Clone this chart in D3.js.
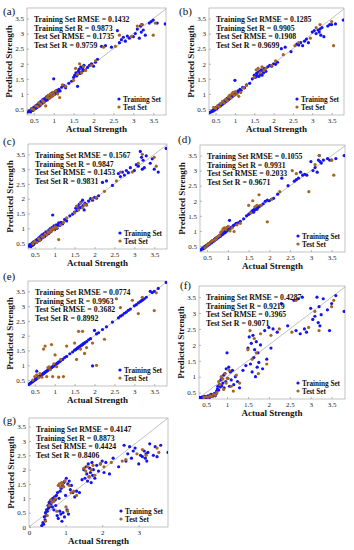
<!DOCTYPE html>
<html>
<head>
<meta charset="utf-8">
<script src="https://cdn.jsdelivr.net/npm/d3@7"></script>
<style>
  body { margin: 0; background: #fff; }
  svg { display: block; font-family: "Liberation Serif", "Times New Roman", serif; }
</style>
</head>
<body>
<svg id="chart" width="354" height="550"></svg>
<script>
// actual strength, shared by all seven models
const trainActual = [
  0.35,0.38,0.40,0.42,0.44,0.45,0.47,0.48,0.50,0.52,
  0.53,0.55,0.56,0.58,0.60,0.61,0.62,0.64,0.65,0.67,
  0.68,0.70,0.72,0.73,0.75,0.77,0.78,0.80,0.82,0.84,
  0.85,0.87,0.88,0.90,0.92,0.93,0.95,0.97,0.98,1.00,
  1.02,1.04,1.06,1.08,1.10,1.13,1.16,1.20,1.25,1.30,
  1.38,1.45,1.50,1.53,1.56,1.58,1.60,1.62,1.64,1.66,
  1.68,1.70,1.72,1.74,1.76,1.80,1.85,1.90,1.95,2.00,
  2.05,2.10,2.20,2.30,2.45,2.60,2.65,2.70,2.75,2.80,
  2.85,2.90,3.00,3.05,3.10,3.15,3.18,3.20,3.22,3.25,
  3.30,3.40,3.45,3.50,3.60,3.80];
const testActual = [
  0.45,0.50,0.55,0.60,0.63,0.68,0.72,0.76,0.80,0.83,
  0.86,0.89,0.92,0.95,0.98,1.01,1.05,1.10,1.15,1.22,
  1.30,1.50,1.55,1.60,1.65,1.70,1.75,1.80,1.95,2.05,
  2.25,2.55,2.65,2.95,3.10,3.20,3.50,3.55];

// predicted strength per model
const trainPredA = [
  0.40,0.42,0.45,0.40,0.50,0.47,0.52,0.45,0.55,0.50,
  0.58,0.52,0.62,0.55,0.65,0.58,0.68,0.60,0.72,0.63,
  0.75,0.68,0.80,0.70,0.82,0.74,0.85,0.78,0.90,0.80,
  0.92,0.85,0.95,0.88,0.98,0.90,1.02,0.93,1.05,1.50,
  0.98,1.08,1.02,1.12,1.05,1.15,1.10,1.22,1.28,1.20,
  1.35,1.42,1.55,1.62,1.70,1.60,1.25,1.75,1.82,1.68,
  1.90,1.72,1.85,1.78,1.95,1.80,1.88,1.95,2.00,1.92,
  2.05,2.15,2.58,2.60,2.55,3.10,2.70,2.80,2.88,2.75,
  2.92,2.85,2.90,3.00,3.15,2.85,3.25,3.05,3.30,3.12,
  2.95,3.35,3.40,3.45,3.35,3.32];
const testPredA = [
  0.50,0.48,0.60,0.58,0.70,0.65,0.78,0.72,0.60,0.88,
  0.95,0.85,1.00,0.92,1.05,0.97,1.10,1.00,0.88,1.30,
  1.25,1.45,1.85,1.65,2.00,1.70,1.90,1.78,1.95,2.10,
  2.55,2.58,2.95,2.90,3.25,3.30,2.95,3.35];

const trainPredB = [
  0.38,0.40,0.42,0.45,0.43,0.48,0.50,0.47,0.53,0.55,
  0.50,0.58,0.55,0.62,0.60,0.65,0.60,0.68,0.63,0.70,
  0.66,0.74,0.70,0.78,0.73,0.80,0.76,0.85,0.80,0.88,
  0.83,0.92,0.86,0.95,0.90,0.98,0.93,1.00,0.96,1.45,
  1.00,1.05,1.03,1.10,1.08,1.15,1.12,1.22,1.20,1.30,
  1.35,1.50,1.62,1.55,1.68,1.60,1.72,1.58,1.75,1.65,
  1.80,1.62,1.78,1.70,1.85,1.75,1.90,1.95,1.92,2.00,
  1.98,2.05,2.50,2.55,2.40,2.65,2.62,2.70,2.60,2.75,
  2.82,2.70,3.05,3.10,3.00,3.12,3.05,3.15,2.95,3.20,
  2.90,3.25,3.30,3.30,3.32,3.45];
const testPredB = [
  0.55,0.52,0.60,0.57,0.68,0.75,0.70,0.82,0.78,0.90,
  0.95,0.87,1.00,1.05,0.95,1.08,1.00,0.92,1.05,1.20,
  1.28,1.55,1.80,1.85,1.70,1.90,1.78,1.85,1.95,2.10,
  2.30,2.60,2.70,2.85,3.20,3.30,3.40,2.60];

const trainPredC = [
  0.40,0.45,0.38,0.48,0.42,0.52,0.45,0.55,0.50,0.58,
  0.52,0.62,0.55,0.60,0.68,0.58,0.65,0.72,0.62,0.70,
  0.78,0.68,0.75,0.82,0.72,0.80,0.88,0.78,0.85,0.92,
  0.82,0.90,0.98,0.88,0.95,1.02,1.45,0.98,1.08,0.95,
  1.05,1.12,1.00,1.10,1.18,1.10,1.20,1.15,1.30,1.25,
  1.42,1.48,1.55,1.68,1.60,1.75,1.65,1.82,1.70,1.88,
  1.72,1.95,1.78,1.62,1.85,1.80,1.92,2.00,1.95,2.05,
  2.02,2.10,2.55,2.60,2.45,2.85,2.75,2.90,2.80,2.95,
  2.88,3.05,2.95,3.15,3.10,3.60,3.40,3.00,3.30,3.05,
  3.45,3.20,3.35,3.00,2.90,3.70];
const testPredC = [
  0.48,0.55,0.52,0.65,0.60,0.72,0.70,0.80,0.78,0.88,
  0.85,0.95,0.90,1.00,0.96,1.05,1.02,0.62,1.12,1.20,
  1.35,1.52,1.75,1.62,1.85,1.70,1.80,1.78,2.00,2.05,
  2.25,2.60,2.90,2.90,3.20,3.50,3.40,3.10];

const trainPredD = [
  0.37,0.41,0.40,0.46,0.43,0.49,0.47,0.52,0.50,0.56,
  0.53,0.59,0.56,0.62,0.60,0.65,0.62,0.68,0.66,0.71,
  0.68,0.75,0.72,0.78,0.76,0.81,0.79,0.85,0.82,0.89,
  0.86,0.92,0.89,0.95,0.93,0.99,0.96,1.02,1.00,1.06,
  1.05,1.35,1.08,1.12,1.12,1.18,1.20,1.25,1.27,1.32,
  1.40,1.50,1.55,1.58,1.62,1.65,1.68,1.62,1.72,1.70,
  1.75,1.72,1.78,1.80,1.82,1.85,1.90,1.98,2.02,2.00,
  2.05,2.08,2.22,2.75,2.50,2.65,2.70,2.75,2.95,2.85,
  2.88,2.85,3.30,3.00,3.10,2.95,3.35,3.50,3.30,3.25,
  3.35,3.40,3.35,3.35,3.40,3.50];
const testPredD = [
  0.45,0.52,0.58,0.65,0.68,0.70,0.75,0.82,0.85,0.95,
  1.00,1.08,1.10,1.05,1.12,1.15,1.00,1.10,0.98,1.20,
  1.25,1.85,1.60,2.00,1.80,1.85,2.20,1.85,1.30,2.05,
  2.30,3.00,2.90,2.30,3.20,3.50,3.35,2.85];

const trainPredE = [
  0.35,0.39,0.40,0.43,0.44,0.46,0.47,0.49,0.50,0.53,
  0.53,0.80,0.57,0.58,0.61,0.61,0.63,0.64,0.66,0.67,
  0.69,0.70,0.73,0.73,0.76,0.77,0.79,0.80,0.83,0.84,
  0.86,0.87,0.89,0.90,0.93,0.93,0.96,0.97,0.99,1.00,
  1.03,1.04,1.07,1.08,1.11,1.13,1.17,1.20,1.26,1.30,
  1.39,1.45,1.51,1.53,1.57,1.58,1.61,1.62,1.65,1.66,
  1.69,1.70,1.73,1.74,1.77,1.80,1.86,1.90,0.98,2.18,
  2.06,2.10,2.21,2.30,2.46,2.60,2.66,2.70,2.76,2.80,
  2.86,2.90,3.01,3.05,3.11,3.15,3.19,3.20,3.23,3.25,
  3.30,3.50,3.46,3.50,3.60,3.80];
const testPredE = [
  0.50,0.62,0.68,0.58,0.72,0.60,1.55,1.65,0.62,0.92,
  0.95,0.85,1.70,0.62,1.05,1.35,0.95,0.60,1.20,0.62,
  1.65,1.75,1.20,2.15,1.55,2.15,1.40,1.60,1.75,1.00,
  1.88,3.25,2.95,3.20,2.75,3.30,2.85,3.45];

const trainPredF = [
  0.35,0.34,0.36,0.35,0.37,0.34,0.38,0.36,0.35,0.38,
  0.36,0.40,0.37,0.35,0.42,0.38,0.45,0.40,0.38,0.44,
  0.42,0.48,0.40,0.45,0.55,0.62,0.70,0.58,0.75,0.68,
  0.90,0.72,0.95,0.80,1.05,0.65,1.10,0.85,1.25,1.75,
  0.95,1.30,0.70,1.15,0.90,1.20,0.75,1.00,0.85,0.65,
  1.20,1.35,1.90,2.25,1.40,2.05,1.15,2.30,1.60,1.85,
  1.00,2.10,1.30,1.75,1.45,2.00,1.25,2.45,1.55,2.55,
  1.90,2.50,2.40,3.30,2.60,3.40,2.45,3.45,2.35,3.50,
  2.50,2.40,3.15,2.80,2.90,3.50,2.70,3.20,2.60,2.95,
  3.45,3.10,2.45,3.30,3.55,3.05];
const testPredF = [
  0.35,0.37,0.36,0.40,0.38,0.45,0.42,0.50,0.85,0.75,
  1.00,0.92,0.60,1.10,0.80,0.95,1.20,0.70,0.55,1.05,
  0.80,1.85,2.45,1.55,2.20,1.75,1.10,2.35,1.40,2.30,
  2.50,2.40,3.40,2.55,3.05,2.45,3.20,3.40];

const trainPredG = [
  0.05,0.15,0.10,0.35,0.25,0.50,0.40,0.60,0.55,0.75,
  0.65,0.85,0.70,0.90,0.80,0.95,0.85,0.70,1.00,0.90,
  0.60,1.05,0.95,0.75,1.10,0.40,1.20,0.30,1.00,0.55,
  1.25,0.45,1.35,0.20,1.45,0.50,1.55,0.35,1.60,1.10,
  1.70,0.60,1.50,0.45,1.60,1.30,1.45,1.20,1.05,1.25,
  1.20,1.65,2.00,1.70,2.10,1.85,1.60,2.20,1.75,2.05,
  1.90,1.55,2.25,1.80,2.00,1.70,2.15,1.95,2.20,2.30,
  1.90,2.25,1.85,2.40,2.10,2.85,2.30,2.55,2.80,2.40,
  2.65,2.75,2.20,2.50,2.45,2.65,2.40,2.55,2.30,2.60,
  2.90,2.50,2.80,2.45,2.85,2.60];
const testPredG = [
  0.20,0.40,0.75,0.95,0.85,0.90,1.00,0.55,1.45,1.50,
  1.40,1.55,1.50,1.40,1.60,0.70,0.55,1.45,1.20,1.25,
  1.10,2.05,1.95,2.10,1.75,2.00,2.15,1.80,2.20,2.10,
  2.25,2.30,2.35,2.55,2.70,2.50,2.75,2.60];

// Training RMSE, Training R, Test RMSE, Test R
const statsA = ['0.1432', '0.9873', '0.1735', '0.9759'];
const statsB = ['0.1285', '0.9905', '0.1908', '0.9699'];
const statsC = ['0.1567', '0.9847', '0.1453', '0.9831'];
const statsD = ['0.1055', '0.9931', '0.2033', '0.9671'];
const statsE = ['0.0774', '0.9963', '0.3682', '0.8992'];
const statsF = ['0.4287', '0.9219', '0.3965', '0.9071'];
const statsG = ['0.4147', '0.8873', '0.4424', '0.8406'];

const statNames = ['Training Set RMSE', 'Training Set R', 'Test Set RMSE', 'Test Set R'];
const ticksHalf = [0.5, 1, 1.5, 2, 2.5, 3, 3.5];
const ticksG = [0, 1, 2, 3];
const ticksGy = [0, 0.5, 1, 1.5, 2, 2.5, 3, 3.5];

const TRAIN_COLOR = '#1414f0';
const TEST_COLOR = '#a8641e';

// box = [left, top, right, bottom]; lab = position of the (a) letter
const panels = [
  { name: '(a)', train: trainPredA, test: testPredA, stats: statsA, box: [27, 8, 166, 115], lab: [3, 15],
    xd: [0.33, 3.82], yd: [0.3, 3.85], xt: ticksHalf, yt: ticksHalf },
  { name: '(b)', train: trainPredB, test: testPredB, stats: statsB, box: [209, 8, 344, 115], lab: [179, 15],
    xd: [0.33, 3.82], yd: [0.3, 3.85], xt: ticksHalf, yt: ticksHalf },
  { name: '(c)', train: trainPredC, test: testPredC, stats: statsC, box: [28, 144, 167, 249], lab: [3, 145],
    xd: [0.33, 3.82], yd: [0.3, 3.85], xt: ticksHalf, yt: ticksHalf },
  { name: '(d)', train: trainPredD, test: testPredD, stats: statsD, box: [200, 145, 345, 252], lab: [178, 143],
    xd: [0.33, 3.82], yd: [0.3, 3.85], xt: ticksHalf, yt: ticksHalf },
  { name: '(e)', train: trainPredE, test: testPredE, stats: statsE, box: [28, 281, 167, 386], lab: [3, 280],
    xd: [0.33, 3.82], yd: [0.3, 3.85], xt: ticksHalf, yt: ticksHalf },
  { name: '(f)', train: trainPredF, test: testPredF, stats: statsF, box: [199, 286, 345, 399], lab: [180, 289],
    xd: [0.33, 3.82], yd: [0.3, 3.85], xt: ticksHalf, yt: ticksHalf },
  { name: '(g)', train: trainPredG, test: testPredG, stats: statsG, box: [29, 418, 168, 527], lab: [3, 424],
    xd: [0, 3.8], yd: [0, 3.8], xt: ticksG, yt: ticksGy }
];

const svg = d3.select('#chart');

panels.forEach((p, i) => {
  const [l, t, r, b] = p.box;
  const x = d3.scaleLinear().domain(p.xd).range([l, r]);
  const y = d3.scaleLinear().domain(p.yd).range([b, t]);
  const g = svg.append('g');

  g.append('clipPath').attr('id', 'clip' + i)
    .append('rect').attr('x', l).attr('y', t).attr('width', r - l).attr('height', b - t);

  // axes, ticks pointing inward like matlab
  const fmt = d => String(d);
  const xAxis = g.append('g').attr('transform', `translate(0,${b})`)
    .call(d3.axisBottom(x).tickValues(p.xt).tickSize(-2).tickPadding(3).tickFormat(fmt));
  const yAxis = g.append('g').attr('transform', `translate(${l},0)`)
    .call(d3.axisLeft(y).tickValues(p.yt).tickSize(-2).tickPadding(3).tickFormat(fmt));
  [xAxis, yAxis].forEach(a => {
    a.attr('font-family', null).attr('font-size', null);
    a.select('.domain').remove();
    a.selectAll('line').attr('stroke', '#888').attr('stroke-width', 0.6);
    a.selectAll('text').attr('font-size', '7px').attr('fill', '#222');
  });

  g.append('rect')
    .attr('x', l).attr('y', t).attr('width', r - l).attr('height', b - t)
    .attr('fill', 'none').attr('stroke', '#999').attr('stroke-width', 0.6);

  // y = x reference line
  g.append('line')
    .attr('clip-path', `url(#clip${i})`)
    .attr('x1', x(-1)).attr('y1', y(-1)).attr('x2', x(5)).attr('y2', y(5))
    .attr('stroke', '#b0b0b0').attr('stroke-width', 0.8);

  const pts = g.append('g').attr('clip-path', `url(#clip${i})`);
  pts.selectAll('.tr').data(trainActual).enter().append('circle')
    .attr('cx', d => x(d)).attr('cy', (d, k) => y(p.train[k]))
    .attr('r', 1.6).attr('fill', TRAIN_COLOR);
  pts.selectAll('.te').data(testActual).enter().append('circle')
    .attr('cx', d => x(d)).attr('cy', (d, k) => y(p.test[k]))
    .attr('r', 1.6).attr('fill', TEST_COLOR);

  // metrics text
  p.stats.forEach((v, k) => {
    g.append('text')
      .attr('x', l + 7).attr('y', t + 14 + k * 8.6)
      .attr('font-size', '7.8px').attr('font-weight', 'bold').attr('fill', '#111')
      .text(`${statNames[k]} = ${v}`);
  });

  // legend
  [['Training Set', TRAIN_COLOR, 16], ['Test Set', TEST_COLOR, 8]].forEach(([txt, c, off]) => {
    g.append('circle').attr('cx', r - 47).attr('cy', b - off).attr('r', 1.6).attr('fill', c);
    g.append('text').attr('x', r - 43).attr('y', b - off + 2.5)
      .attr('font-size', '7.2px').attr('font-weight', 'bold').attr('fill', '#111').text(txt);
  });

  // axis titles
  g.append('text')
    .attr('x', (l + r) / 2).attr('y', b + 17)
    .attr('text-anchor', 'middle').attr('font-size', '9px').attr('font-weight', 'bold').attr('fill', '#111')
    .text('Actual Strength');
  g.append('text')
    .attr('transform', `translate(${l - 15},${(t + b) / 2}) rotate(-90)`)
    .attr('text-anchor', 'middle').attr('font-size', '9px').attr('font-weight', 'bold').attr('fill', '#111')
    .text('Predicted Strength');

  g.append('text').attr('x', p.lab[0]).attr('y', p.lab[1])
    .attr('font-size', '11px').attr('fill', '#111').text(p.name);
});
</script>
</body>
</html>
